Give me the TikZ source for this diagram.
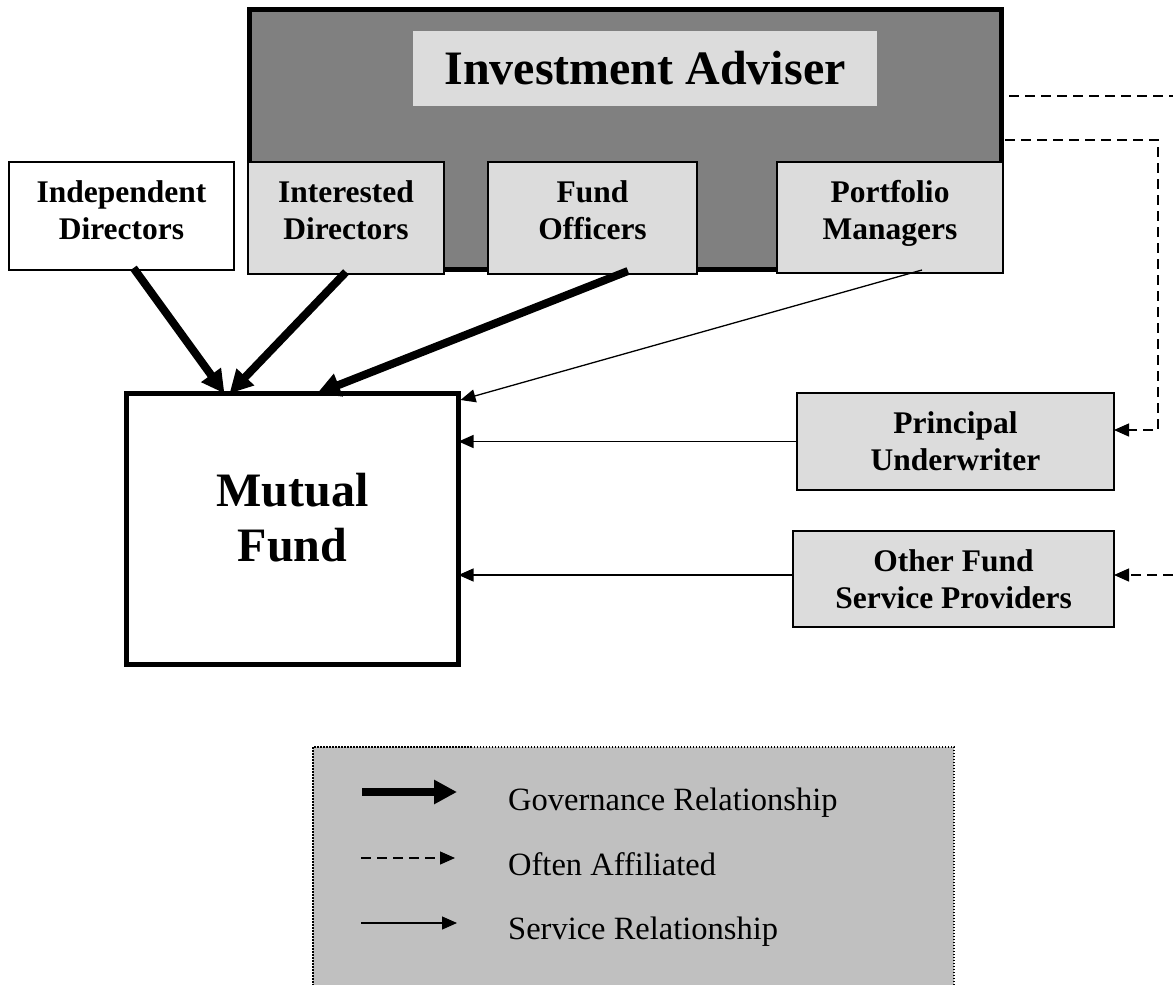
\documentclass[tikz,border=0pt]{standalone}
\usepackage{fontspec}
\setmainfont{Liberation Serif}
\usetikzlibrary{arrows.meta}
\definecolor{advgray}{HTML}{808080}
\definecolor{boxgray}{HTML}{DCDCDC}
\definecolor{keygray}{HTML}{C0C0C0}
\newcommand\boxfont{\fontsize{31.5}{37}\selectfont\bfseries}
\newcommand\bigfont{\fontsize{48}{55}\selectfont\bfseries}
\newcommand\keyfont{\fontsize{32.5}{38}\selectfont}

\begin{document}
\begin{tikzpicture}[x=1pt, y=-1pt,
	subbox/.style={draw, line width=1.3pt, fill=boxgray, inner sep=0pt, outer sep=0pt, align=center, font=\boxfont},
	toprow/.style={subbox, text depth=15pt},
	govern/.style={line width=8pt, -{Triangle[length=23pt,width=23pt]}},
	service/.style={line width=1.3pt, -{Triangle[length=15pt,width=13pt]}},
	affil/.style={service, dash pattern=on 10pt off 6pt},
	keytext/.style={anchor=base west, inner sep=0pt, font=\keyfont}]
			%%%%% START %%%%%
			\clip (0, 0) rectangle (1173, 985);
			
			% adviser
			\node[draw, line width=5pt, fill=advgray, minimum width=752pt, minimum height=259.5pt, inner sep=0pt, outer sep=0pt] (adv) at (625, 139.25) {};
			\node[fill=boxgray, minimum width=464pt, minimum height=75pt, inner sep=0pt, font=\bigfont] (title) at (645, 68.5) {Investment Adviser};
			
			\node[toprow, fill=white, minimum width=225pt, minimum height=108pt, text depth=12.5pt] (ind) at (121.5, 216) {Independent\\Directors};
			\node[toprow, minimum width=196pt, minimum height=112pt, text depth=16.5pt] (intd) at (346, 218) {Interested\\Directors};
			\node[toprow, minimum width=209pt, minimum height=112pt, text depth=16.5pt] (fo) at (592.5, 218) {Fund\\Officers};
			\node[toprow, minimum width=226pt, minimum height=111pt] (pm) at (890, 217.5) {Portfolio\\Managers};
			
			% fund and providers
			\node[draw, line width=5pt, fill=white, minimum width=332pt, minimum height=271pt, inner sep=0pt, outer sep=0pt, align=center, font=\bigfont, text depth=23pt] (mf) at (292.5, 529) {Mutual\\Fund};
			\node[subbox, minimum width=317pt, minimum height=97pt] (pu) at (955.5, 441.5) {Principal\\Underwriter};
			\node[subbox, minimum width=321pt, minimum height=96pt] (ofsp) at (953.5, 579) {Other Fund\\Service Providers};
			
			% governance
			\draw[govern] ([xshift=12pt,yshift=2pt]ind.south) -- ([xshift=-68pt]mf.north);
			\draw[govern] ([yshift=2pt]intd.south) -- ([xshift=-63pt]mf.north);
			\draw[govern] ([xshift=35.5pt,yshift=3pt]fo.south) -- ([xshift=24.5pt]mf.north);
			
			% service
			\draw[service] ([xshift=32pt,yshift=3pt]pm.south) -- ([xshift=2pt,yshift=-6.5pt]mf.north east);
			\draw[service] (pu.west) -- (pu.west -| mf.east);
			\coordinate (osp) at ([yshift=4pt]ofsp.west);
			\draw[service] (osp) -- (osp -| mf.east);
			
			% affiliated
			\coordinate (edge) at (1173, 0);
			\coordinate (a1) at ([xshift=8pt,yshift=-86.5pt]adv.north east);
			\draw[line width=1.3pt, dash pattern=on 10pt off 6pt] (a1) -- (a1 -| edge);
			\coordinate (a2) at ([xshift=4pt,yshift=-130.5pt]adv.north east);
			\coordinate (turn) at (1158, 140);
			\draw[affil] (a2) -- (turn) |- ([yshift=11.5pt]pu.east);
			\coordinate (a3) at ([yshift=4pt]ofsp.east);
			\draw[affil] (a3 -| edge) -- (a3);
			
			% key
			\draw[line width=1.3pt, dash pattern=on 1.5pt off 1.5pt, fill=keygray] (313, 747) rectangle (954, 1000);
			\node[keytext] (kgov) at (508, 810) {Governance Relationship};
			\node[keytext] (kaff) at (508, 875) {Often Affiliated};
			\node[keytext] (ksrv) at (508, 939) {Service Relationship};
			\draw[govern] (362, 792) -- (457, 792);
			\draw[affil] (361, 858) -- (455, 858);
			\draw[service] (361, 923) -- (457, 923);
			
			%%%%% END %%%%%
\end{tikzpicture}
\end{document}
